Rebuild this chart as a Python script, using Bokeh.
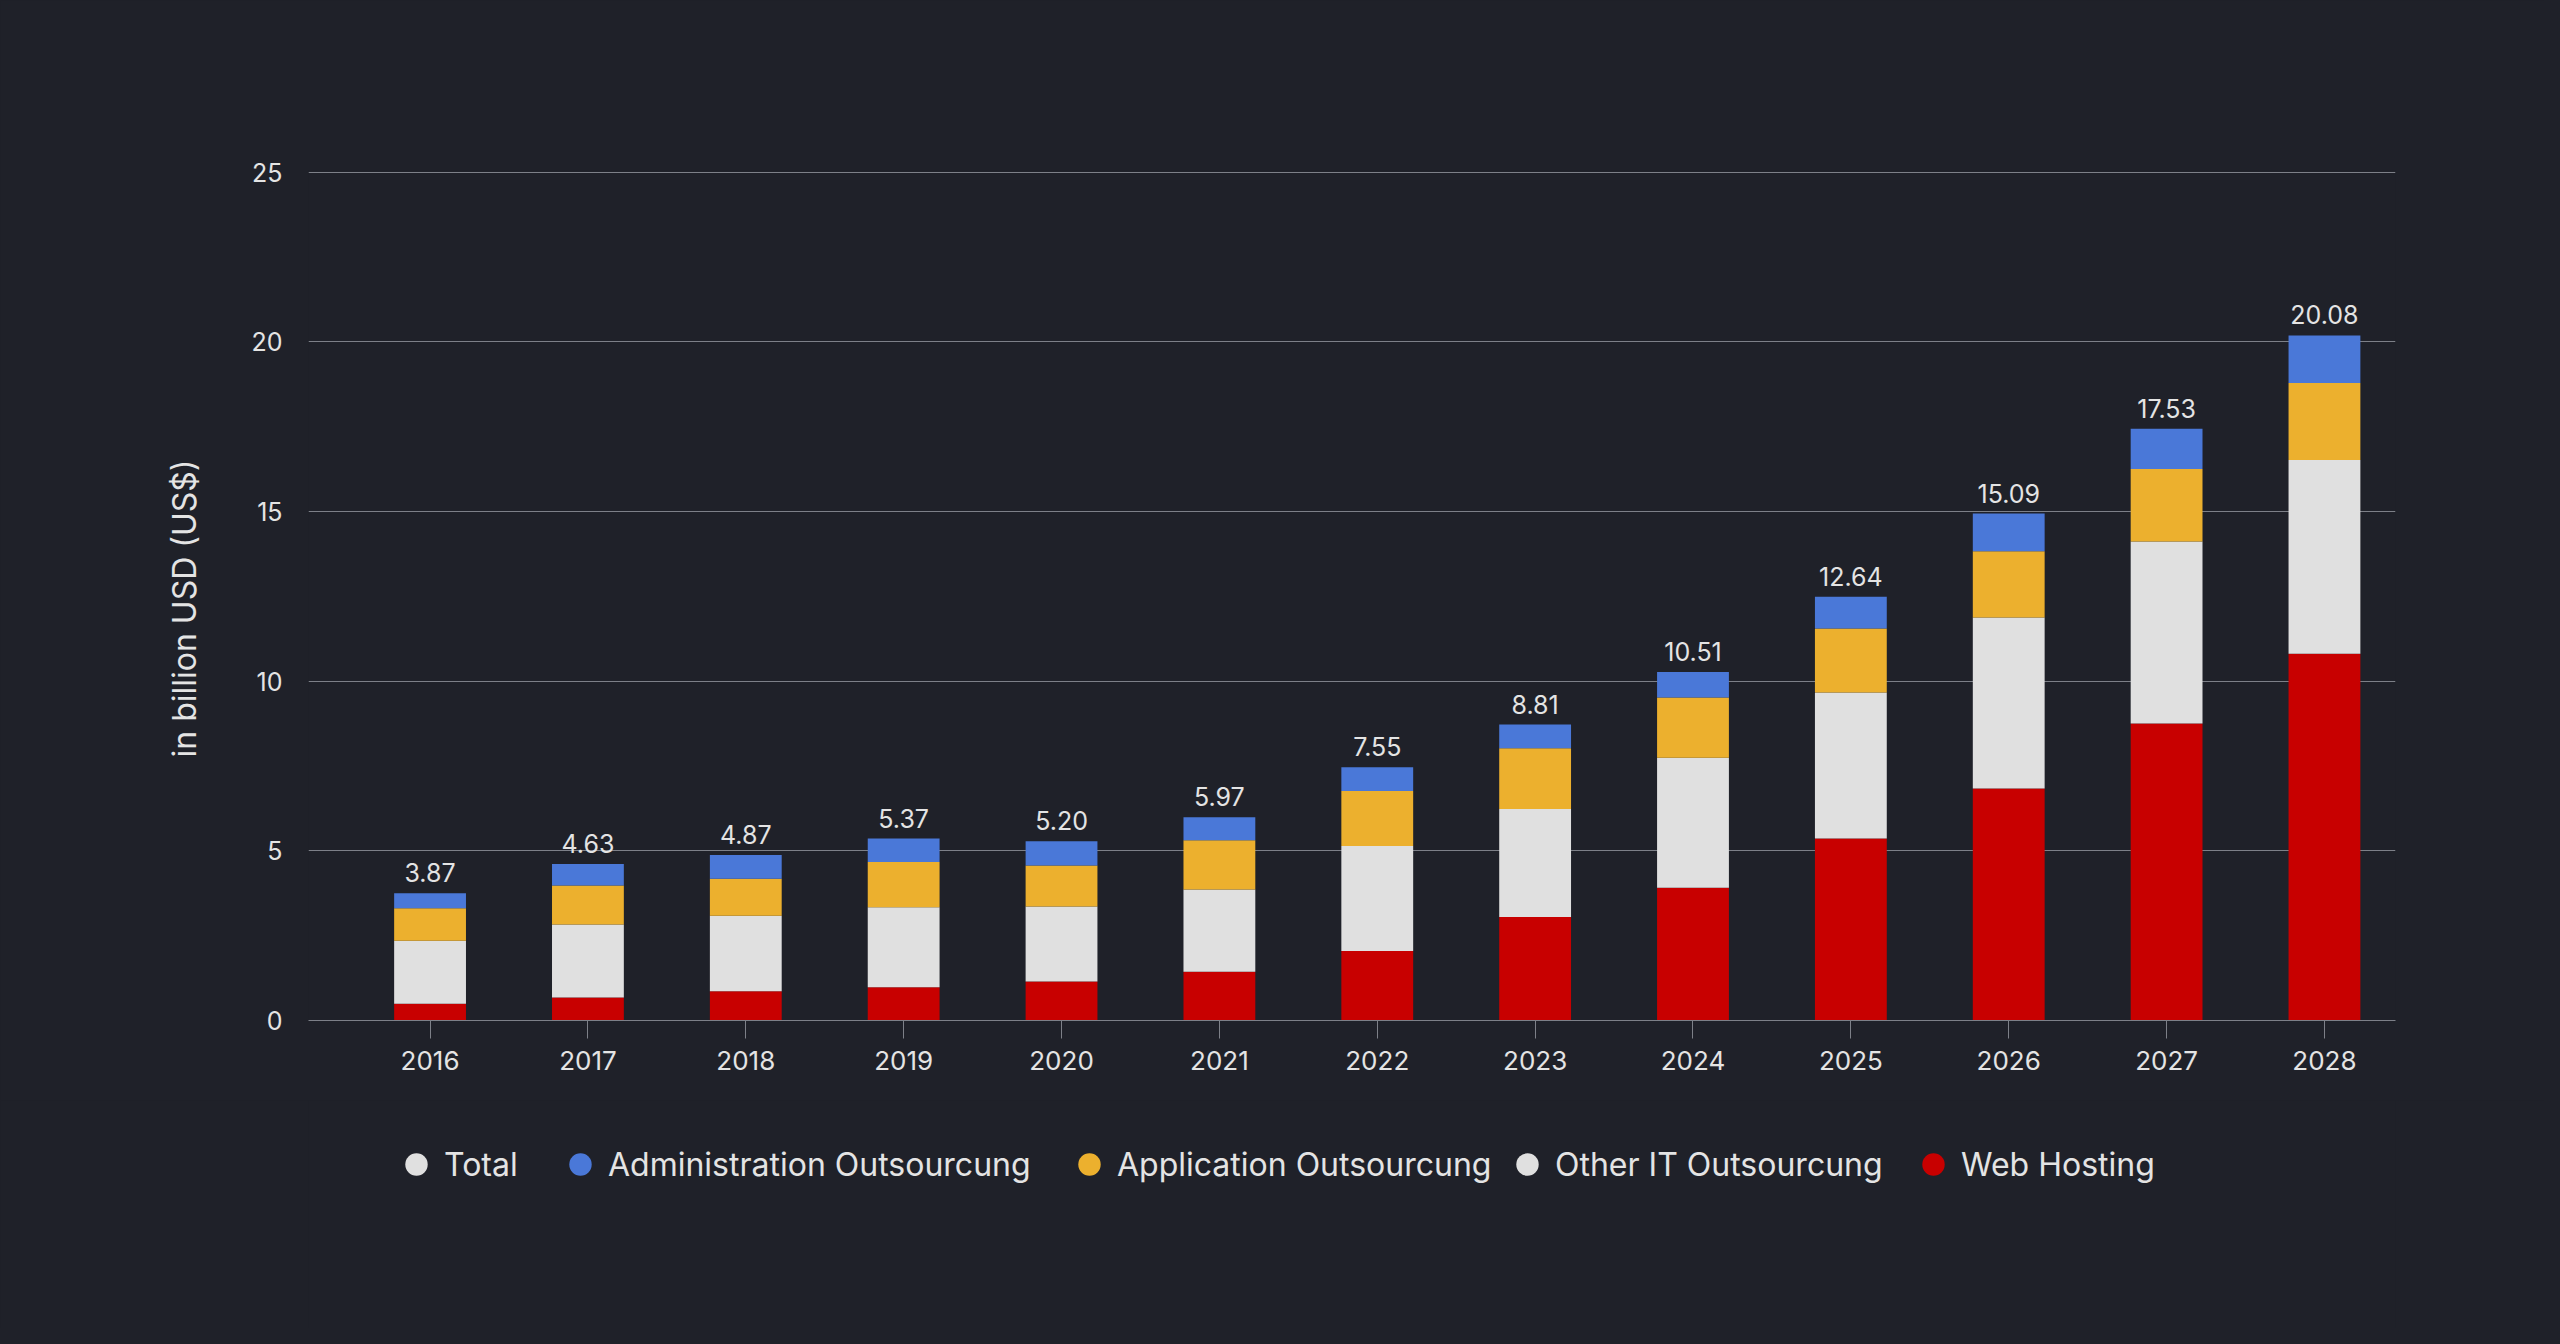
from bokeh.plotting import figure
from bokeh.layouts import column
from bokeh.models import (ColumnDataSource, Range1d, FixedTicker, Legend, LegendItem, Title)
from bokeh.embed import file_html
from bokeh.resources import INLINE
from bokeh.core.properties import value

years = [2016, 2017, 2018, 2019, 2020, 2021, 2022, 2023, 2024, 2025, 2026, 2027, 2028]
web_hosting = [0.49, 0.68, 0.86, 0.98, 1.15, 1.44, 2.05, 3.05, 3.91, 5.36, 6.84, 8.75, 10.81]
other_it = [1.86, 2.15, 2.23, 2.36, 2.21, 2.42, 3.09, 3.18, 3.83, 4.31, 5.04, 5.37, 5.71]
application = [0.96, 1.15, 1.09, 1.33, 1.21, 1.45, 1.62, 1.79, 1.78, 1.88, 1.95, 2.13, 2.27]
administration = [0.44, 0.63, 0.70, 0.69, 0.71, 0.68, 0.70, 0.70, 0.75, 0.94, 1.11, 1.19, 1.40]
total_labels = ["3.87", "4.63", "4.87", "5.37", "5.20", "5.97", "7.55", "8.81",
                "10.51", "12.64", "15.09", "17.53", "20.08"]
y_ticks = [0, 5, 10, 15, 20, 25]

series_names = ["Total", "Administration Outsourcung", "Application Outsourcung",
                "Other IT Outsourcung", "Web Hosting"]

BG = "#1f2129"
RED = "#c80000"
LIGHT = "#e0e0e0"
YELLOW = "#ecb02e"
BLUE = "#4a78d8"
GRID = "#7d8088"
TEXT = "#e4e4e4"
FONT = "Inter"

stack_keys = ["web", "other", "app", "admin"]
stack_colors = [RED, LIGHT, YELLOW, BLUE]
tops = [a + b + c + d for a, b, c, d in zip(web_hosting, other_it, application, administration)]

source = ColumnDataSource(data=dict(year=years, web=web_hosting, other=other_it,
                                    app=application, admin=administration))
label_source = ColumnDataSource(data=dict(year=years, top=tops, label=total_labels))

W = 2544
H_MAIN = 1100
H_LEG = 228
FRAME_L = 308
FRAME_R = 2395
FRAME_T = 170
FRAME_B = 1020

p = figure(width=W, height=H_MAIN, output_backend="svg", toolbar_location=None,
           x_range=Range1d(2015.23, 2028.45), y_range=Range1d(0, 25.05),
           min_border_left=FRAME_L, min_border_right=W - FRAME_R,
           min_border_top=FRAME_T, min_border_bottom=H_MAIN - FRAME_B)
p.background_fill_color = BG
p.border_fill_color = BG
p.outline_line_color = None

p.vbar_stack(stack_keys, x="year", width=0.455, color=stack_colors, line_color=None,
             source=source)

p.text(x="year", y="top", text="label", source=label_source,
       text_align="center", text_baseline="bottom", y_offset=-11,
       text_font=value(FONT), text_font_size="25px", text_color=TEXT)

# axes
p.xaxis.ticker = FixedTicker(ticks=years)
p.xaxis.axis_line_color = GRID
p.xaxis.axis_line_width = 1.2
p.xaxis.major_tick_line_color = GRID
p.xaxis.major_tick_out = 18
p.xaxis.major_tick_in = 0
p.xaxis.minor_tick_line_color = None
p.xaxis.major_label_standoff = 12
p.xaxis.major_label_text_font = FONT
p.xaxis.major_label_text_font_size = "26px"
p.xaxis.major_label_text_color = TEXT

p.yaxis.ticker = FixedTicker(ticks=y_ticks)
p.yaxis.axis_line_color = None
p.yaxis.major_tick_line_color = None
p.yaxis.minor_tick_line_color = None
p.yaxis.major_tick_out = 0
p.yaxis.major_tick_in = 0
p.yaxis.major_label_standoff = 26
p.yaxis.major_label_text_font = FONT
p.yaxis.major_label_text_font_size = "25px"
p.yaxis.major_label_text_color = TEXT

# y-axis caption as a side title (start of the text placed by offset)
y_title = Title(text="in billion USD (US$)", align="left", offset=263, standoff=90,
                text_font=FONT, text_font_size="32px", text_font_style="normal",
                text_color=TEXT)
p.add_layout(y_title, "left")

p.xgrid.grid_line_color = None
p.ygrid.grid_line_color = GRID
p.ygrid.grid_line_width = 1.2

# legend strip below the chart, circle markers
leg = figure(width=W, height=H_LEG, output_backend="svg", toolbar_location=None,
             x_range=Range1d(0, 1), y_range=Range1d(0, 1),
             min_border=0, x_axis_type=None, y_axis_type=None)
leg.background_fill_color = BG
leg.border_fill_color = BG
leg.outline_line_color = None
leg.grid.visible = False

legend_colors = [LIGHT, BLUE, YELLOW, LIGHT, RED]
swatch_centers = [416, 580, 1089, 1527, 1933]   # legend layout positions (px)
leg_top = 1136 - H_MAIN
for name, col, cx in zip(series_names, legend_colors, swatch_centers):
    # off-range placeholder point: only its legend swatch is shown
    r = leg.scatter(x=[-5], y=[-5], marker="circle", size=22, fill_color=col,
                    line_color=None)
    lg = Legend(items=[LegendItem(label=name, renderers=[r])], orientation="horizontal",
                location=(cx - 28 - FRAME_L, H_LEG - leg_top - 56),
                glyph_width=56, glyph_height=56, label_standoff=0,
                padding=0, margin=0, border_line_color=None, background_fill_alpha=0,
                label_text_font=FONT, label_text_font_size="32px",
                label_text_color=TEXT)
    leg.add_layout(lg, "center")

layout = column(p, leg, spacing=0)

page_style = ("{% block preamble %}<style>html, body { background-color: " + BG +
              "; }</style>{% endblock %}")
open("out.html", "w").write(file_html(layout, INLINE, template=page_style))
